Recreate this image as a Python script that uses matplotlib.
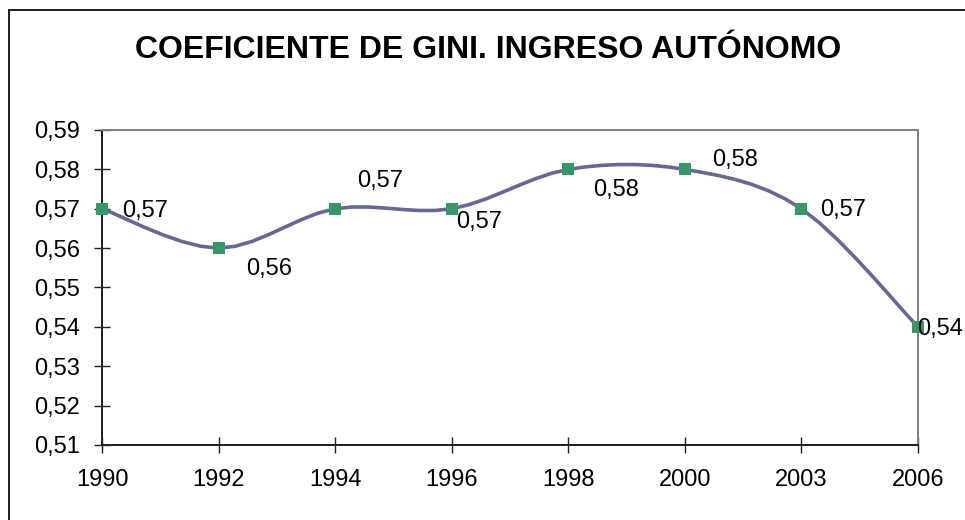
import numpy as np
import matplotlib
matplotlib.use("Agg")
import matplotlib.pyplot as plt
from matplotlib.lines import Line2D

# ---- data ----
years = ["1990", "1992", "1994", "1996", "1998", "2000", "2003", "2006"]
gini = [0.57, 0.56, 0.57, 0.57, 0.58, 0.58, 0.57, 0.54]
label_texts = ["0,57", "0,56", "0,57", "0,57", "0,58", "0,58", "0,57", "0,54"]
yticks = [0.51, 0.52, 0.53, 0.54, 0.55, 0.56, 0.57, 0.58, 0.59]
title = "COEFICIENTE DE GINI. INGRESO AUTÓNOMO"

# label offsets (pixels: left edge dx, baseline dy up)
label_offsets_px = [(20, -8), (28, -27), (22, 22), (4, -19),
                    (25, -27), (27, 3), (19, -7), (-1, -8)]

plt.rcParams['font.family'] = ['Liberation Sans', 'DejaVu Sans']

W, H, DPI = 965, 520, 100
fig = plt.figure(figsize=(W / DPI, H / DPI), dpi=DPI)
px = 72.0 / DPI  # points per pixel

left, right, top, bottom = 102, 918, 130, 445
ax = fig.add_axes([left / W, 1 - bottom / H, (right - left) / W, (bottom - top) / H])

x = np.arange(len(years))
y = np.array(gini)

# Catmull-Rom smoothing (like Excel smoothed line)
def smooth(xs, ys, n=8):
    pts = np.column_stack([xs, ys]).astype(float)
    ext = np.vstack([pts[0], pts, pts[-1]])
    out = []
    for i in range(1, len(ext) - 2):
        p0, p1, p2, p3 = ext[i - 1], ext[i], ext[i + 1], ext[i + 2]
        c1 = p1 + (p2 - p0) / 6.0
        c2 = p2 - (p3 - p1) / 6.0
        t = np.linspace(0, 1, n)[:, None]
        seg = ((1 - t) ** 3) * p1 + 3 * ((1 - t) ** 2) * t * c1 + 3 * (1 - t) * t ** 2 * c2 + t ** 3 * p2
        out.append(seg if i == 1 else seg[1:])
    out = np.vstack(out)
    return out[:, 0], out[:, 1]

sx, sy = smooth(x, y)
ax.plot(sx, sy, color="#666699", lw=3.6 * px, solid_joinstyle="round",
        solid_capstyle="round", zorder=3, clip_on=False)
ax.plot(x, y, linestyle="none", marker="s", markersize=12.5 * px, color="#339966",
        markeredgewidth=0, zorder=4, clip_on=False)

for xi, yi, txt, (dx, dy) in zip(x, y, label_texts, label_offsets_px):
    ax.annotate(txt, (xi, yi), xytext=(dx * px, dy * px), textcoords="offset points",
                ha="left", va="baseline", fontsize=17, color="black", zorder=5,
                annotation_clip=False)

ax.set_xlim(0, len(years) - 1)
ax.set_ylim(yticks[0], yticks[-1])
ax.set_xticks(x)
ax.set_xticklabels(years)
ax.set_yticks(yticks)
ax.set_yticklabels([f"{v:.2f}".replace(".", ",") for v in yticks])

for s in ("left", "bottom"):
    ax.spines[s].set_color("#222222")
    ax.spines[s].set_linewidth(2 * px)
for s in ("top", "right"):
    ax.spines[s].set_color("#808080")
    ax.spines[s].set_linewidth(2 * px)

ax.tick_params(axis="both", direction="inout", length=16 * px, width=1.4 * px,
               color="#222222", labelsize=17)
ax.tick_params(axis="y", pad=14 * px)
ax.tick_params(axis="x", pad=16 * px)

fig.text(488 / W, 1 - 50 / H, title, ha="center", va="center", fontsize=23,
         fontweight="bold", color="black")

# outer chart frame (extends beyond the image on the right and bottom)
fig.add_artist(Line2D([9 / W, 9 / W], [1 - 10 / H, -0.05], transform=fig.transFigure,
                      color="#222222", lw=2 * px))
fig.add_artist(Line2D([9 / W, 1.05], [1 - 10 / H, 1 - 10 / H], transform=fig.transFigure,
                      color="#222222", lw=2 * px))

fig.savefig("out.png", dpi=DPI)
